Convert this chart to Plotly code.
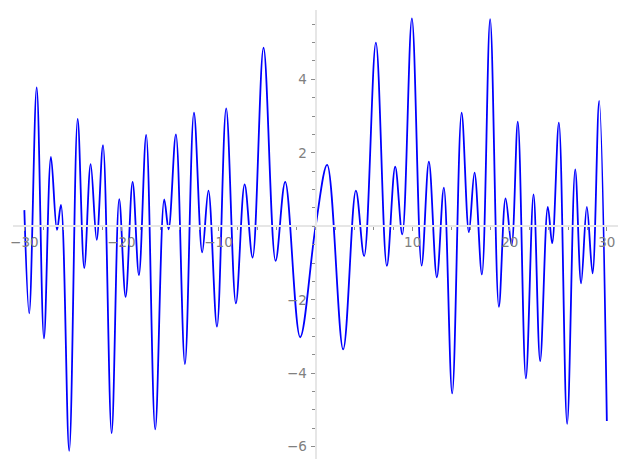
import plotly.graph_objects as go

# turning points (x, y)
x_pts = [
    -30.0, -29.5, -28.73, -27.98, -27.26, -26.64, -26.23, -25.38, -24.51, -23.83,
    -23.17, -22.55, -21.9, -21.01, -20.23, -19.57, -18.85, -18.2, -17.45, -16.52,
    -15.59, -15.14, -14.39, -13.46, -12.53, -11.68, -11.04, -10.16, -9.21, -8.21,
    -7.31, -6.49, -5.36, -4.12, -3.13, -1.59, 0.0, 1.19, 2.84, 4.15,
    5.0, 6.21, 7.34, 8.2, 8.93, 9.92, 10.92, 11.67, 12.49, 13.21,
    14.07, 15.04, 15.79, 16.37, 17.13, 17.98, 18.88, 19.57, 20.19, 20.83,
    21.66, 22.45, 23.13, 23.92, 24.37, 25.06, 25.91, 26.74, 27.35, 27.94,
    28.53, 29.21, 30.0,
]
y_pts = [
    0.44, -2.37, 3.78, -3.05, 1.89, -0.10, 0.58, -6.11, 2.92, -1.14,
    1.69, -0.37, 2.21, -5.63, 0.74, -1.92, 1.21, -1.33, 2.49, -5.53,
    0.73, -0.08, 2.50, -3.75, 3.09, -0.71, 0.97, -2.73, 3.21, -2.10,
    1.14, -0.85, 4.86, -0.94, 1.21, -3.02, 0.0, 1.67, -3.35, 0.97,
    -0.81, 5.00, -1.08, 1.62, -0.22, 5.66, -1.07, 1.76, -1.39, 1.05,
    -4.55, 3.09, -0.16, 1.46, -1.31, 5.64, -2.19, 0.76, -0.51, 2.85,
    -4.14, 0.87, -3.67, 0.53, -0.46, 2.82, -5.38, 1.55, -1.55, 0.53,
    -1.28, 3.41, -5.30,
]

x_ticks = [-30, -20, -10, 10, 20, 30]
y_ticks = [-6, -4, -2, 2, 4]

X_RANGE = [-31.2, 31.15]
Y_RANGE = [-6.334, 5.887]

W, H = 627, 470
x_dom = [12.7 / W, 618 / W]
y_dom = [1 - 459 / H, 1 - 10 / H]

# axes cross at the origin, like a centred-spine plot
x_pos = y_dom[0] + (0 - Y_RANGE[0]) / (Y_RANGE[1] - Y_RANGE[0]) * (y_dom[1] - y_dom[0])
y_pos = x_dom[0] + (0 - X_RANGE[0]) / (X_RANGE[1] - X_RANGE[0]) * (x_dom[1] - x_dom[0])

AXIS_GREY = "#e6e6e6"
TICK_GREY = "#8c8c8c"
FONT = {"family": "DejaVu Sans", "size": 13.5, "color": "#808080"}

fig = go.Figure(go.Scatter(
    x=x_pts, y=y_pts, mode="lines",
    line={"color": "#0000ff", "width": 1.8, "shape": "spline", "smoothing": 1.0},
    hoverinfo="skip",
))

fig.update_layout(
    width=W, height=H,
    margin={"l": 0, "r": 0, "t": 0, "b": 0, "pad": 0},
    paper_bgcolor="white", plot_bgcolor="white",
    showlegend=False,
    font=FONT,
)
fig.update_xaxes(
    domain=x_dom, range=X_RANGE, anchor="free", position=x_pos,
    automargin=False,
    showgrid=False, zeroline=False,
    showline=True, linecolor=AXIS_GREY, linewidth=2,
    tickmode="array", tickvals=x_ticks,
    ticks="outside", ticklen=4, tickwidth=1, tickcolor=TICK_GREY,
    tickfont=FONT, ticklabelstandoff=0,
    minor={"tickmode": "linear", "tick0": 0, "dtick": 2, "ticks": "outside",
           "ticklen": 2.5, "tickwidth": 1, "tickcolor": TICK_GREY},
)
fig.update_yaxes(
    domain=y_dom, range=Y_RANGE, anchor="free", position=y_pos,
    automargin=False,
    showgrid=False, zeroline=False,
    showline=True, linecolor=AXIS_GREY, linewidth=2,
    tickmode="array", tickvals=y_ticks,
    ticks="outside", ticklen=4, tickwidth=1, tickcolor=TICK_GREY,
    tickfont=FONT, ticklabelstandoff=1,
    minor={"tickmode": "linear", "tick0": 0, "dtick": 0.5, "ticks": "outside",
           "ticklen": 2.5, "tickwidth": 1, "tickcolor": TICK_GREY},
)

# page body has a default 8px margin; drop it so the figure sits at the window corner
fig.write_html(
    "out.html",
    config={"displayModeBar": False},
    post_script="document.body.style.margin='0';",
)
